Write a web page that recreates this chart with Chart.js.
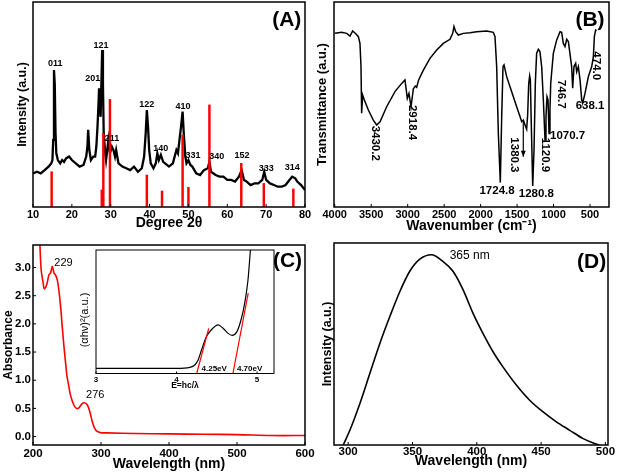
<!DOCTYPE html>
<html><head><meta charset="utf-8">
<script src="https://cdn.jsdelivr.net/npm/chart.js@4/dist/chart.umd.min.js"></script>
<style>
html,body{margin:0;padding:0;background:#fff;}
#wrap{position:relative;width:620px;height:475px;overflow:hidden;background:#fff;}
canvas{position:absolute;}
</style></head><body>
<div id="wrap">
<canvas id="cB" width="310" height="235" style="left:310px;top:0"></canvas>
<canvas id="cD" width="310" height="240" style="left:310px;top:235px"></canvas>
<canvas id="cA" width="320" height="235" style="left:0;top:0"></canvas>
<canvas id="cC" width="320" height="240" style="left:0;top:235px"></canvas>
<canvas id="cI" width="205" height="148" style="left:75px;top:245px"></canvas>
</div>
<script>
// ---------- (A) XRD ----------
const xrdTheta = [10,11,12,13,14,14.7,15.0,15.2,15.4,15.6,15.8,16.0,16.4,17,17.5,18,18.5,19.3,20,21,22,23,23.7,24.0,24.2,24.5,24.9,25.5,26.0,26.3,26.6,26.9,27.0,27.2,27.4,27.6,27.8,28.0,28.2,28.6,28.8,29.1,29.4,29.8,30.3,30.7,31.1,31.4,32,33,34,35,36,37,38,38.6,39.0,39.3,39.6,39.9,40.3,41,41.6,42.0,42.4,42.9,43.5,44,45,46,46.9,47.3,47.7,48.1,48.5,48.8,49.2,49.5,50.0,50.5,51,52,53,54,55.0,55.4,55.8,57,58,59,60,61,62,63,63.7,64.3,65,66,67,68,69,69.5,70,71,72,73,74,75,76,76.7,77.5,78,79,80];
const xrdIntensity = [16.4,17.2,16.4,18,19.7,21.3,22.9,32.7,66.8,60,36,26.2,22.9,21.3,22.9,22,23.7,24.6,22.9,21.3,19.7,20.5,24.6,29.4,37.6,27.8,22.9,24.6,24.6,29.4,39.2,52.2,57.9,48.9,44,60.3,76.6,60.3,35.9,26.2,22.9,27.8,32.7,26.2,29.4,27.8,24.6,27.8,21.3,19.7,18.9,18,19.7,17.2,18.9,24.6,35.9,47.3,39.2,27.8,21.3,18.9,21.3,26.2,22.9,25.4,22,21.3,19.7,21.3,27.8,26.2,32.7,39.2,46.5,35.9,24.6,21.3,22.9,20.5,19.7,16.4,15.6,18,18.9,22.1,17.2,15.6,14.8,14.8,13.2,13.2,12.4,14.8,18,13.2,12.4,10.7,11.5,11.5,13.2,17.2,13.2,11.5,10.7,9.9,9.9,10.7,13.2,14.8,14,12.4,10.7,8.3];
const refTheta = [14.8,27.7,28.1,29.8,39.3,43.2,48.5,50.0,55.4,63.6,69.4,77.0];
const refIntensity = [17.2,8.3,35.9,52.5,15.6,7.8,35.1,9.6,49.8,21.3,11.5,8.8];
const xrdTicks = [10,20,30,40,50,60,70,80];
const hklText = ['011','201','121','211','122','140','410','331','340','152','333','314'];
const hklTheta = [15.7,25.4,27.5,30.3,39.3,42.9,48.6,51.2,57.3,63.8,70.0,76.7];
const hklY = [70.2,62.9,79,33.2,50.2,28.3,48.8,24.9,24.4,24.9,19,19.5];

// ---------- (B) FTIR ----------
const irWave = [3996,3905,3836,3791,3754,3708,3676,3654,3640,3631,3617,3594,3539,3471,3425,3379,3288,3174,3082,3037,3005,2982,2954,2922,2895,2877,2849,2785,2694,2602,2511,2420,2383,2365,2342,2305,2237,2145,2054,1917,1826,1803,1780,1757,1730,1711,1693,1679,1643,1597,1551,1506,1460,1437,1414,1391,1369,1355,1341,1328,1318,1305,1286,1268,1250,1232,1209,1187,1163,1140,1117,1104,1090,1076,1062,1049,1039,1003,957,911,889,866,843,820,797,752,738,720,697,683,660,637,614,601,569,523,477,454,441,423,409];
const irTrans = [84.7,85.2,84.7,83.4,85.9,84.4,83.1,79.8,68.5,45.7,54.6,52.2,47.3,42.4,40.0,41.6,48.9,56.3,60.3,62.0,53.0,55.4,48.9,57.7,59,58.4,62,66.8,72.5,76.6,79.8,81.8,84.7,88,85.5,83.9,84.7,85,85.5,85.9,85.2,83.1,68.5,35.9,11.9,44,68.5,69.3,63.6,58.7,53.8,48.9,44.1,41.6,42.4,40,38,45,60,64,62,40,10.2,27.8,60.3,75,76.9,75.8,68.5,52.2,32.7,44,53.8,52.2,35.9,47.3,60.3,75,81.5,85.5,85.2,79.8,78.2,81.8,80.7,68.5,57.9,68.5,70.1,66,68.5,62,52.2,50.6,55.4,63.6,68.5,73.3,83.1,86.3,86];
const irTicks = [4000,3500,3000,2500,2000,1500,1000,500];
const irPeakText = ['3430.2','2918.4','1724.8','1380.3','1280.8','1120.9','1070.7','746.7','638.1','474.0'];
const irPeakX = [3441,2945,1775,1542,1236,1117,1049,901,500,414];
const irPeakY = [31.1,41.2,8.1,25.4,6.5,25.4,34.9,55,49.4,68.9];

// ---------- (C) UV-Vis ----------
const uvWave = [210,212,215,216.6,220,223.5,226,228.4,231,233,235.7,238,240.6,243,245.5,248,250,252.8,255,260,264,267.5,272,275.8,280,283.6,287,290.5,294.4,299,309,350,400,450,500,550,600];
const uvAbs = [3.45,2.96,2.72,2.62,2.69,2.87,2.91,3.02,2.90,2.87,2.78,2.60,2.31,1.95,1.60,1.30,1.07,0.89,0.74,0.56,0.50,0.51,0.58,0.60,0.56,0.44,0.27,0.15,0.09,0.07,0.065,0.055,0.047,0.04,0.035,0.018,0.018];
const uvXTicks = [200,300,400,500,600];
const uvYTicks = [0,0.5,1.0,1.5,2.0,2.5,3.0];

// ---------- (C) inset: Tauc plot ----------
const taucE = [3.0,4.0,4.165,4.227,4.268,4.31,4.37,4.43,4.516,4.578,4.64,4.69,4.75,4.80,4.846,4.887,4.917];
const taucY = [4.2,4.2,5,6.9,10.9,19,29.8,35.2,39.3,36.6,32.5,30.9,33.9,43.3,56.8,75.7,100];
const fit1E = [4.25,4.40], fit1Y = [0,36.6];
const fit2E = [4.70,4.89], fit2Y = [0,65];
const taucTicks = [3,4,5];

// ---------- (D) PL ----------
const plWave = [296.2,301.4,309.2,316.9,324.7,332.4,340.2,347.9,355.7,364.7,373.7,381.5,389.2,397,404.7,412.5,420.2,430.6,440.9,451.3,461.6,472,482.3,492.6,495.2];
const plInt = [0,7.4,20.7,35.5,50.4,63.6,76,86,92,94.2,90.9,86,77,65.3,55.4,46.3,38.8,29.8,22.3,16.5,11.6,7.4,3.3,0.5,0];
const plTicks = [300,350,400,450,500];

// ================= helpers =================
const FAM = "'Liberation Sans', Arial, sans-serif";
Chart.defaults.font.family = FAM;
Chart.defaults.color = '#000';
const pts = (xs, ys) => xs.map((x, i) => ({x: x, y: ys[i]}));
const setTicks = vals => s => { s.ticks = vals.map(v => ({value: v})); };

const annot = {
  id: 'annot',
  beforeDatasetsDraw(chart, args, o) {
    if (o.bg) {
      const ca = chart.chartArea, ctx = chart.ctx;
      ctx.save(); ctx.fillStyle = o.bg;
      ctx.fillRect(ca.left, ca.top, ca.right - ca.left, ca.bottom - ca.top);
      ctx.restore();
    }
  },
  afterDraw(chart, args, o) {
    const ctx = chart.ctx, ca = chart.chartArea, xs = chart.scales.x, ys = chart.scales.y;
    ctx.save();
    ctx.strokeStyle = '#000';
    ctx.lineWidth = o.frame || 1.5;
    ctx.strokeRect(ca.left, ca.top, ca.right - ca.left, ca.bottom - ca.top);
    ctx.lineWidth = 1;
    ctx.beginPath();
    xs.ticks.forEach(t => { const p = xs.getPixelForValue(t.value); ctx.moveTo(p, ca.bottom); ctx.lineTo(p, ca.bottom - (o.tickLen || 3)); });
    if (o.yTicks) ys.ticks.forEach(t => { const p = ys.getPixelForValue(t.value); ctx.moveTo(ca.left, p); ctx.lineTo(ca.left + (o.tickLen || 3), p); });
    ctx.stroke();
    (o.labels || []).forEach(l => {
      const px = xs.getPixelForValue(l.x), py = ys.getPixelForValue(l.y);
      ctx.save();
      ctx.translate(px, py);
      if (l.rot) ctx.rotate(l.rot * Math.PI / 180);
      ctx.font = l.font;
      ctx.fillStyle = l.color || '#000';
      ctx.textAlign = l.align || 'center';
      ctx.textBaseline = 'middle';
      ctx.fillText(l.text, 0, 0);
      ctx.restore();
    });
    (o.arrows || []).forEach(a => {
      const px = xs.getPixelForValue(a.x), p1 = ys.getPixelForValue(a.y1), p2 = ys.getPixelForValue(a.y2);
      ctx.lineWidth = 1.2;
      ctx.beginPath(); ctx.moveTo(px, p1); ctx.lineTo(px, p2); ctx.stroke();
      ctx.beginPath(); ctx.moveTo(px - 2.5, p2 - 6); ctx.lineTo(px, p2); ctx.lineTo(px + 2.5, p2 - 6); ctx.closePath();
      ctx.fillStyle = '#000'; ctx.fill();
    });
    ctx.restore();
  }
};

function xAxis(min, max, ticks, title, tsize, pad, h, extra) {
  return Object.assign({
    type: 'linear', min: min, max: max, offset: false,
    afterBuildTicks: setTicks(ticks),
    afterFit: s => { s.height = h; s.paddingLeft = 0; s.paddingRight = 0; },
    grid: {display: false, drawTicks: false, offset: false}, border: {display: false},
    ticks: {font: {size: tsize, weight: 'bold'}, padding: pad, color: '#000', maxRotation: 0, minRotation: 0, autoSkip: false, callback: v => String(v)},
    title: {display: !!title, text: title, font: {size: 14, weight: 'bold'}, padding: 0, color: '#000'}
  }, extra || {});
}
function yAxis(min, max, w, title, tsize, tpad) {
  return {
    type: 'linear', min: min, max: max,
    afterFit: s => { s.width = w; s.paddingTop = 0; s.paddingBottom = 0; },
    ticks: {display: false},
    grid: {display: false, drawTicks: false}, border: {display: false},
    title: {display: !!title, text: title, font: {size: tsize, weight: 'bold'}, padding: {top: tpad, bottom: 0}, color: '#000'}
  };
}
const baseOpts = {responsive: false, animation: false, events: []};
const noLegend = {legend: {display: false}, tooltip: {enabled: false}};
const lbl = (text, x, y, font, extra) => Object.assign({text: text, x: x, y: y, font: font}, extra || {});

// ================= (A) =================
new Chart(document.getElementById('cA'), {
  type: 'line',
  data: {datasets: [
    {type: 'bar', data: pts(refTheta, refIntensity), backgroundColor: '#ff0000', barThickness: 1.8, order: 1},
    {type: 'line', data: pts(xrdTheta, xrdIntensity), borderColor: '#000', borderWidth: 2.3, pointRadius: 0, tension: 0, order: 2}
  ]},
  options: Object.assign({}, baseOpts, {
    layout: {padding: {top: 2, right: 15, left: 0, bottom: 3}},
    plugins: Object.assign({}, noLegend, {annot: {
      labels: hklText.map((t, i) => lbl(t, hklTheta[i], hklY[i], 'bold 9px ' + FAM))
        .concat([lbl('(A)', 75.3, 91.2, 'bold 21px ' + FAM)])
    }}),
    scales: {
      x: xAxis(10, 80, xrdTicks, 'Degree 2θ', 11, 1, 25),
      y: yAxis(0, 100, 33, 'Intensity (a.u.)', 12.5, 15)
    }
  }),
  plugins: [annot]
});

// ================= (B) =================
const rotSet = {'3430.2':1,'2918.4':1,'1380.3':1,'1120.9':1,'746.7':1,'474.0':1};
new Chart(document.getElementById('cB'), {
  type: 'line',
  data: {datasets: [
    {data: pts(irWave, irTrans), borderColor: '#000', borderWidth: 1.5, pointRadius: 0, tension: 0}
  ]},
  options: Object.assign({}, baseOpts, {
    layout: {padding: {top: 2, right: 11, left: 0, bottom: 0}},
    plugins: Object.assign({}, noLegend, {annot: {
      labels: irPeakText.map((t, i) => lbl(t, irPeakX[i], irPeakY[i], 'bold 11.5px ' + FAM,
                {rot: rotSet[t] ? 90 : 0, align: t === '1070.7' ? 'left' : 'center'}))
        .concat([lbl('(B)', 500, 91.2, 'bold 21px ' + FAM)]),
      arrows: [{x: 1415, y1: 42, y2: 24.5}]
    }}),
    scales: {
      x: xAxis(240, 4010, irTicks, 'Wavenumber (cm⁻¹)', 11, 1, 28, {reverse: true}),
      y: yAxis(0, 100, 24, 'Transmittance (a.u.)', 13, 5)
    }
  }),
  plugins: [annot]
});

// ================= (C) =================
const yC = yAxis(-0.15, 3.4, 33, 'Absorbance', 12, 1.1);
yC.afterBuildTicks = setTicks(uvYTicks);
yC.ticks = {display: true, font: {size: 11.5, weight: 'bold'}, padding: 2, color: '#000', callback: v => v.toFixed(1)};
new Chart(document.getElementById('cC'), {
  type: 'line',
  data: {datasets: [
    {data: pts(uvWave, uvAbs), borderColor: '#ff0000', borderWidth: 1.6, pointRadius: 0, tension: 0.3}
  ]},
  options: Object.assign({}, baseOpts, {
    layout: {padding: {top: 10, right: 15, left: 0, bottom: 2.6}},
    plugins: Object.assign({}, noLegend, {annot: {
      yTicks: true,
      labels: [
        lbl('229', 231.3, 3.08, '11px ' + FAM, {align: 'left'}),
        lbl('276', 278, 0.73, '11px ' + FAM, {align: 'left'}),
        lbl('(C)', 574.3, 3.116, 'bold 21px ' + FAM)
      ]
    }}),
    scales: {
      x: xAxis(200, 600, uvXTicks, 'Wavelength (nm)', 11.5, 1.5, 27.4),
      y: yC
    }
  }),
  plugins: [annot]
});

// ================= (D) =================
new Chart(document.getElementById('cD'), {
  type: 'line',
  data: {datasets: [
    {data: pts(plWave, plInt), borderColor: '#000', borderWidth: 1.6, pointRadius: 0, tension: 0.4, cubicInterpolationMode: 'monotone'}
  ]},
  options: Object.assign({}, baseOpts, {
    layout: {padding: {top: 8, right: 12, left: 0, bottom: 5.3}},
    plugins: Object.assign({}, noLegend, {annot: {
      labels: [
        lbl('365 nm', 394.5, 93.6, '12px ' + FAM),
        lbl('(D)', 489.3, 90.7, 'bold 21px ' + FAM)
      ]
    }}),
    scales: {
      x: xAxis(289, 502, plTicks, 'Wavelength (nm)', 11.5, 0, 24.7),
      y: yAxis(0, 100, 24, 'Intensity (a.u.)', 12.5, 10)
    }
  }),
  plugins: [annot]
});

// ================= (C) inset =================
const xI = xAxis(3, 5.21, taucTicks, 'E=hc/λ', 8, 1, 17);
xI.title.font = {size: 8.5, weight: 'bold'};
new Chart(document.getElementById('cI'), {
  type: 'line',
  data: {datasets: [
    {data: pts(fit1E, fit1Y), borderColor: '#ff0000', borderWidth: 1.2, pointRadius: 0, order: 1},
    {data: pts(fit2E, fit2Y), borderColor: '#ff0000', borderWidth: 1.2, pointRadius: 0, order: 1},
    {data: pts(taucE, taucY), borderColor: '#000', borderWidth: 1.2, pointRadius: 0, tension: 0.35, cubicInterpolationMode: 'monotone', order: 2}
  ]},
  options: Object.assign({}, baseOpts, {
    layout: {padding: {top: 5, right: 6, left: 0, bottom: 2.5}},
    plugins: Object.assign({}, noLegend, {annot: {
      bg: '#fff', frame: 1, tickLen: 2,
      labels: [
        lbl('4.25eV', 4.31, 3.6, 'bold 8px ' + FAM, {align: 'left'}),
        lbl('4.70eV', 4.75, 3.6, 'bold 8px ' + FAM, {align: 'left'}),
        lbl('(αhν)²(a.u.)', 2.864, 43.3, '11px ' + FAM, {rot: -90})
      ]
    }}),
    scales: {
      x: xI,
      y: yAxis(0, 100, 21, '', 9, 0)
    }
  }),
  plugins: [annot]
});
</script>
</body></html>
